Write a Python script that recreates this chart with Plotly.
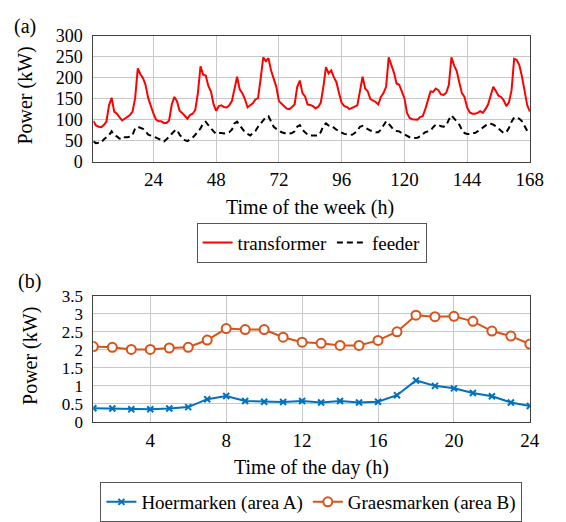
import plotly.graph_objects as go

# ---- (a) weekly profile, hourly (h = 1..168) ----
week_hours = list(range(1, 169))
transformer_kw = [
    97, 86, 83, 82, 87, 95, 134, 152, 119, 114, 106, 98, 102, 107, 111, 119, 151, 222, 208, 199, 182, 151, 132, 114,
    100, 96, 96, 92, 92, 98, 136, 154, 144, 121, 116, 110, 102, 111, 114, 123, 163, 227, 207, 205, 180, 167, 136, 121,
    132, 134, 130, 129, 134, 144, 170, 202, 172, 163, 149, 129, 134, 139, 148, 151, 197, 248, 239, 246, 217, 195, 178, 144,
    139, 132, 126, 125, 130, 136, 178, 193, 163, 155, 136, 135, 132, 127, 130, 140, 178, 225, 210, 217, 201, 189, 163, 140,
    132, 130, 125, 129, 131, 134, 167, 202, 174, 167, 149, 146, 142, 136, 154, 163, 178, 248, 231, 212, 186, 183, 167, 151,
    116, 104, 101, 100, 100, 106, 108, 125, 148, 167, 166, 174, 170, 160, 159, 164, 182, 248, 229, 216, 189, 163, 154, 129,
    117, 114, 114, 116, 120, 116, 125, 136, 157, 178, 168, 157, 154, 146, 132, 141, 170, 245, 242, 229, 202, 169, 134, 119,
]
feeder_kw = [
    48, 44, 45, 45, 53, 57, 63, 72, 63, 60, 55, 53, 58, 58, 59, 64, 79, 83, 81, 78, 72, 64, 62, 60,
    57, 54, 51, 48, 53, 60, 66, 73, 76, 64, 57, 51, 49, 53, 57, 64, 72, 79, 91, 95, 87, 79, 72, 66,
    68, 68, 67, 68, 70, 76, 91, 95, 86, 79, 70, 66, 62, 68, 73, 83, 91, 98, 106, 108, 95, 83, 78, 73,
    70, 68, 66, 67, 68, 72, 83, 87, 76, 70, 64, 62, 62, 62, 62, 70, 85, 91, 86, 86, 80, 76, 72, 68,
    66, 65, 64, 64, 68, 74, 83, 85, 81, 77, 74, 72, 70, 70, 76, 86, 96, 90, 82, 75, 73, 72, 68, 64,
    60, 58, 56, 56, 57, 60, 65, 70, 72, 74, 82, 88, 88, 84, 83, 86, 100, 110, 103, 96, 88, 76, 68, 66,
    66, 68, 68, 72, 76, 80, 86, 90, 90, 88, 84, 78, 72, 68, 70, 80, 95, 105, 105, 102, 96, 85, 73, 70,
]
week_ticks = [24, 48, 72, 96, 120, 144, 168]
week_power_ticks = [0, 50, 100, 150, 200, 250, 300]

# ---- (b) average daily profile per household ----
day_hours = list(range(1, 25))
hoermarken_kw = [0.38, 0.37, 0.35, 0.35, 0.37, 0.41, 0.63, 0.72, 0.58, 0.56, 0.55, 0.58,
                 0.54, 0.58, 0.54, 0.56, 0.74, 1.15, 1.00, 0.93, 0.80, 0.71, 0.54, 0.44]
graesmarken_kw = [2.09, 2.07, 2.01, 2.01, 2.05, 2.07, 2.27, 2.59, 2.56, 2.56, 2.35, 2.21,
                  2.18, 2.12, 2.12, 2.26, 2.50, 2.96, 2.92, 2.93, 2.79, 2.52, 2.38, 2.16]
day_ticks = [4, 8, 12, 16, 20, 24]
day_power_ticks = [0, 0.5, 1, 1.5, 2, 2.5, 3, 3.5]
day_power_labels = ["0", "0.5", "1", "1.5", "2", "2.5", "3", "3.5"]

W, H = 566, 522
FONT = "Liberation Serif, Times New Roman, serif"
FS = 19


def px(x):
    return x / W


def py(y):
    return 1 - y / H


fig = go.Figure()

fig.add_trace(go.Scatter(x=week_hours, y=transformer_kw, mode="lines", name="transformer",
                         line=dict(color="#ff0000", width=2), xaxis="x", yaxis="y", legend="legend"))
fig.add_trace(go.Scatter(x=week_hours, y=feeder_kw, mode="lines", name="feeder",
                         line=dict(color="#000000", width=2, dash="6px,4px"),
                         xaxis="x", yaxis="y", legend="legend"))

fig.add_trace(go.Scatter(x=day_hours, y=hoermarken_kw, mode="lines+markers", name="Hoermarken (area A)",
                         line=dict(color="#0072bd", width=2),
                         marker=dict(symbol="x-thin", size=6, line=dict(color="#0072bd", width=2)),
                         xaxis="x2", yaxis="y2", legend="legend2"))
fig.add_trace(go.Scatter(x=day_hours, y=graesmarken_kw, mode="lines+markers", name="Graesmarken (area B)",
                         line=dict(color="#d95319", width=2),
                         marker=dict(symbol="circle", size=9, color="white",
                                     line=dict(color="#d95319", width=2)),
                         xaxis="x2", yaxis="y2", legend="legend2"))


def axis_style(size=FS, standoff=5):
    return dict(showline=True, mirror=True, linecolor="#404040", linewidth=1,
                showgrid=True, gridcolor="#c8c8c8", gridwidth=1, zeroline=False,
                ticks="", ticklabelstandoff=standoff,
                tickfont=dict(family=FONT, size=size, color="#000"))


x_dom = [px(95.7), px(543.3)]

fig.update_layout(
    width=W, height=H,
    margin=dict(l=0, r=0, t=0, b=0),
    paper_bgcolor="white", plot_bgcolor="white",
    font=dict(family=FONT, size=FS, color="#000"),
    xaxis=dict(domain=x_dom, range=[1, 168], tickvals=week_ticks, anchor="y",
               **axis_style(FS, 1)),
    yaxis=dict(domain=[py(158.3), py(26.7)], range=[0, 300], tickvals=week_power_ticks,
               anchor="x", **axis_style(18, 6)),
    xaxis2=dict(domain=x_dom, range=[1, 24], tickvals=day_ticks, anchor="y2",
                **axis_style(FS, 1)),
    yaxis2=dict(domain=[py(430), py(298.3)], range=[0, 3.5], tickvals=day_power_ticks,
                ticktext=day_power_labels, anchor="x2", **axis_style(17, 6)),
    legend=dict(orientation="h", x=px(319.5), xanchor="center", y=py(222), yanchor="top",
                bordercolor="#555", borderwidth=1, bgcolor="white",
                font=dict(family=FONT, size=FS)),
    legend2=dict(orientation="h", x=px(319.3), xanchor="center", y=py(493), yanchor="top",
                 bordercolor="#555", borderwidth=1, bgcolor="white",
                 font=dict(family=FONT, size=FS)),
)

annots = [
    dict(text="(a)", x=px(25.5), y=py(17.5)),
    dict(text="(b)", x=px(30), y=py(283.5)),
    dict(text="Time of the week (h)", x=px(318), y=py(206)),
    dict(text="Time of the day (h)", x=px(319), y=py(478)),
    dict(text="Power (kW)", x=px(26), y=py(89), textangle=-90),
    dict(text="Power (kW)", x=px(32), y=py(361), textangle=-90),
]
for a in annots:
    fig.add_annotation(xref="paper", yref="paper", xanchor="center", yanchor="middle",
                       showarrow=False, font=dict(family=FONT, size=20, color="#000"), **a)

fig.write_html("out.html")
